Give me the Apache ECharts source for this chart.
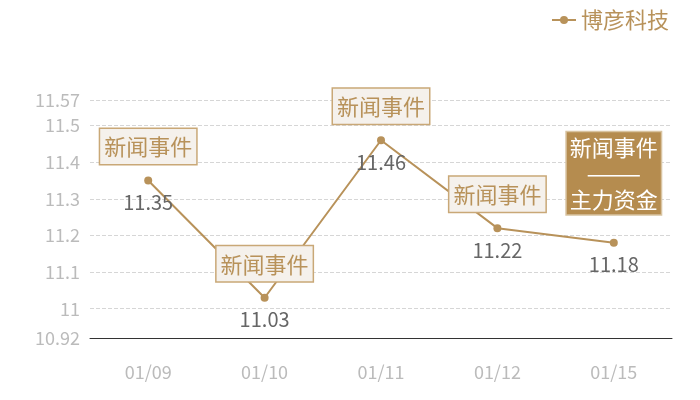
<!DOCTYPE html>
<html>
<head>
<meta charset="utf-8">
<script src="https://cdn.jsdelivr.net/npm/echarts@6/dist/echarts.min.js"></script>
<style>
  html, body { margin: 0; padding: 0; background: #fff; }
  #chart { width: 700px; height: 400px; }
</style>
</head>
<body>
<div id="chart"></div>
<script>
const categories = ['01/09', '01/10', '01/11', '01/12', '01/15']
const prices = [11.35, 11.03, 11.46, 11.22, 11.18]
const yTicks = [10.92, 11, 11.1, 11.2, 11.3, 11.4, 11.5, 11.57]
const eventTexts = ['新闻事件', '新闻事件', '新闻事件', '新闻事件', '新闻事件\n———\n主力资金']
const seriesName = '博彦科技'

const gold = '#b8925a'
const font = '"Noto Sans CJK SC", "Noto Sans", sans-serif'

const chart = echarts.init(document.getElementById('chart'))

// boxes above each point; the last one is filled
const markData = categories.map(function (c, i) {
  const last = i === categories.length - 1
  return {
    coord: [c, prices[i]],
    label: last ? {
      color: '#fff',
      backgroundColor: '#b58c4f',
      borderColor: '#d8c3a0',
      lineHeight: 26,
      distance: 28,
      padding: [2, 3]
    } : {}
  }
})

chart.setOption({
  textStyle: { fontFamily: font },
  legend: {
    right: 26,
    top: 4,
    itemWidth: 24,
    itemHeight: 10,
    textStyle: { fontSize: 22, color: gold, fontFamily: font },
    data: [seriesName]
  },
  grid: { left: 90, right: 28, top: 100, bottom: 62 },
  xAxis: {
    type: 'category',
    data: categories,
    axisLine: { lineStyle: { color: '#333' } },
    axisTick: { show: false },
    axisLabel: { color: '#bbb', fontSize: 18, margin: 25 }
  },
  yAxis: {
    type: 'value',
    min: 10.92,
    max: 11.57,
    axisLine: { show: false },
    axisTick: { show: false, customValues: yTicks },
    axisLabel: { color: '#bbb', fontSize: 18, margin: 10, customValues: yTicks },
    splitLine: { lineStyle: { color: '#d6d6d6', type: 'dashed' } }
  },
  series: [{
    name: seriesName,
    type: 'line',
    data: prices,
    symbol: 'circle',
    symbolSize: 8,
    itemStyle: { color: gold },
    lineStyle: { color: gold, width: 2 },
    label: {
      show: true,
      position: 'bottom',
      distance: 8,
      color: '#666',
      fontSize: 20,
      fontFamily: font
    },
    markPoint: {
      symbol: 'circle',
      symbolSize: 1,
      itemStyle: { color: 'rgba(0,0,0,0)' },
      label: {
        show: true,
        position: 'top',
        distance: 16,
        formatter: function (p) { return eventTexts[p.dataIndex] },
        color: gold,
        fontSize: 22,
        lineHeight: 26,
        fontFamily: font,
        backgroundColor: '#f5f1ec',
        borderColor: '#c9a877',
        borderWidth: 1.5,
        padding: [5, 4, 4, 4]
      },
      data: markData
    }
  }]
})
</script>
</body>
</html>
